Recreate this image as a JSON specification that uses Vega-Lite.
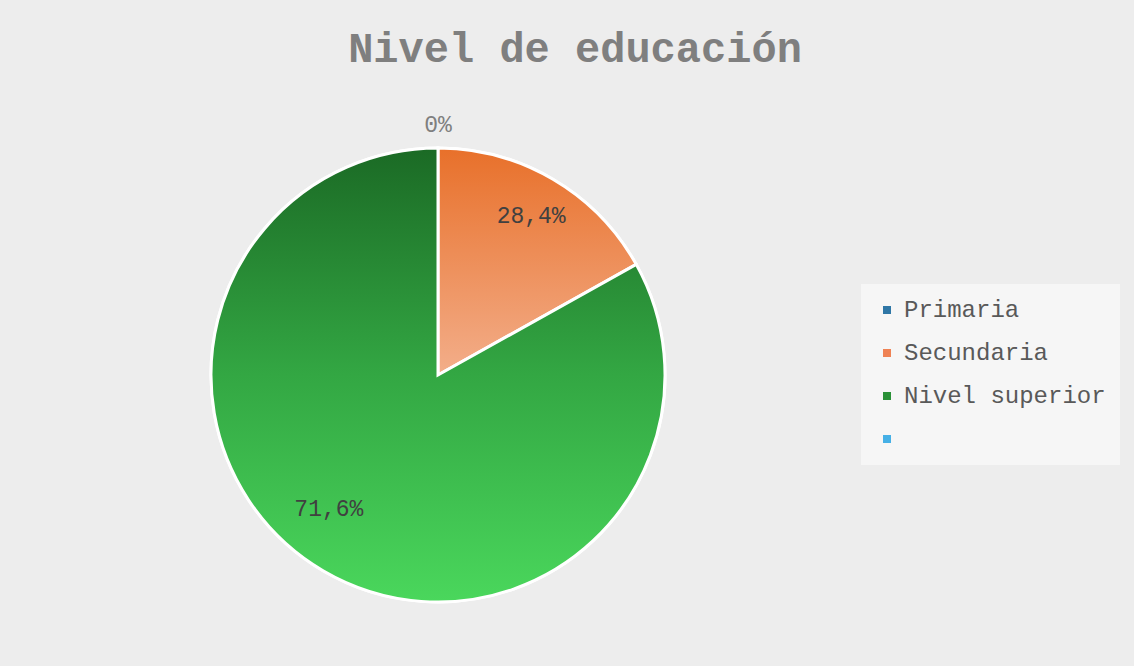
{
  "$schema": "https://vega.github.io/schema/vega-lite/v6.json",
  "autosize": {"type": "none"},
  "padding": {"left": 7, "top": 8, "right": 265, "bottom": 0},
  "width": 862,
  "height": 734,
  "background": "#ededed",
  "config": {"view": {"stroke": null}, "font": "Liberation Mono"},
  "title": {
    "text": "Nivel de educación",
    "fontSize": 42,
    "font": "Liberation Mono",
    "fontWeight": "bold",
    "color": "#7f7f7f",
    "anchor": "middle",
    "frame": "group",
    "dx": 137,
    "offset": -96,
    "baseline": "alphabetic"
  },
  "data": {
    "values": [
      {"nivel": "Primaria", "valor": 0, "etiqueta": "0%", "orden": 1},
      {"nivel": "Secundaria", "valor": 16.9, "etiqueta": "28,4%", "orden": 2},
      {"nivel": "Nivel superior", "valor": 83.1, "etiqueta": "71,6%", "orden": 3},
      {"nivel": "", "valor": 0, "etiqueta": "", "orden": 4}
    ]
  },
  "transform": [
    {"stack": "valor", "groupby": [], "sort": [{"field": "orden", "order": "ascending"}], "as": ["v0", "v1"]}
  ],
  "layer": [
    {
      "mark": {"type": "arc", "outerRadius": 227, "stroke": "#ffffff", "strokeWidth": 3},
      "encoding": {
        "theta": {"field": "v0", "type": "quantitative", "scale": {"domain": [0, 100]}},
        "theta2": {"field": "v1"},
        "color": {
          "field": "nivel",
          "type": "nominal",
          "scale": {
            "domain": ["Primaria", "Secundaria", "Nivel superior", ""],
            "range": ["#2F77A6", "#EF8254", "#2A9137", "#46B0E6"]
          },
          "legend": {
            "orient": "none",
            "legendX": 854,
            "legendY": 276,
            "title": null,
            "fillColor": "rgba(255,255,255,0.5)",
            "padding": 14,
            "symbolType": "square",
            "symbolSize": 64,
            "symbolStrokeWidth": 0,
            "labelFontSize": 24,
            "labelFont": "Liberation Mono",
            "labelColor": "#595959",
            "labelOffset": 5,
            "rowPadding": 19,
            "labelLimit": 400
          }
        }
      }
    },
    {
      "transform": [{"filter": "datum.nivel == 'Secundaria'"}],
      "mark": {
        "type": "arc",
        "outerRadius": 227,
        "stroke": "#ffffff",
        "strokeWidth": 3,
        "fill": {
          "gradient": "linear", "x1": 0, "y1": 0, "x2": 0, "y2": 1,
          "stops": [{"offset": 0, "color": "#E8702A"}, {"offset": 1, "color": "#F3AE8A"}]
        }
      },
      "encoding": {
        "theta": {"field": "v0", "type": "quantitative", "scale": {"domain": [0, 100]}},
        "theta2": {"field": "v1"}
      }
    },
    {
      "transform": [{"filter": "datum.nivel == 'Nivel superior'"}],
      "mark": {
        "type": "arc",
        "outerRadius": 227,
        "stroke": "#ffffff",
        "strokeWidth": 3,
        "fill": {
          "gradient": "linear", "x1": 0, "y1": 0, "x2": 0, "y2": 1,
          "stops": [{"offset": 0, "color": "#1B6A25"}, {"offset": 0.5, "color": "#33A743"}, {"offset": 1, "color": "#4AD75C"}]
        }
      },
      "encoding": {
        "theta": {"field": "v0", "type": "quantitative", "scale": {"domain": [0, 100]}},
        "theta2": {"field": "v1"}
      }
    },
    {
      "transform": [{"filter": "datum.orden <= 2"}],
      "mark": {"type": "text", "radius": 184, "fontSize": 23, "font": "Liberation Mono", "color": "#404040"},
      "encoding": {
        "theta": {"field": "valor", "type": "quantitative", "stack": true, "scale": {"domain": [0, 100]}},
        "order": {"field": "orden"},
        "text": {"condition": {"test": "datum.orden == 2", "field": "etiqueta"}, "value": ""}
      }
    },
    {
      "transform": [{"filter": "datum.orden <= 3"}],
      "mark": {"type": "text", "radius": 182, "dx": -17, "dy": -23, "fontSize": 23, "font": "Liberation Mono", "color": "#404040"},
      "encoding": {
        "theta": {"field": "valor", "type": "quantitative", "stack": true, "scale": {"domain": [0, 100]}},
        "order": {"field": "orden"},
        "text": {"condition": {"test": "datum.orden == 3", "field": "etiqueta"}, "value": ""}
      }
    },
    {
      "transform": [{"filter": "datum.orden == 1"}],
      "mark": {"type": "text", "radius": 250, "fontSize": 23, "font": "Liberation Mono", "color": "#7f7f7f"},
      "encoding": {
        "theta": {"field": "valor", "type": "quantitative", "stack": true, "scale": {"domain": [0, 100]}},
        "text": {"field": "etiqueta"}
      }
    }
  ]
}
